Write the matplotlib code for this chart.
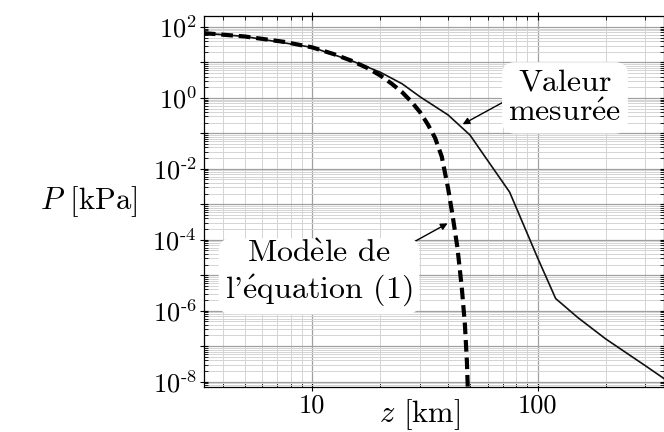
import math
import matplotlib
matplotlib.use('Agg')
import matplotlib.pyplot as plt
from matplotlib.ticker import LogLocator, FuncFormatter, NullFormatter

matplotlib.rcParams['mathtext.fontset'] = 'cm'
matplotlib.rcParams['font.family'] = ['cmr10', 'DejaVu Serif']
matplotlib.rcParams['axes.formatter.use_mathtext'] = True

# measured pressure (standard atmosphere)
z_mes = [3.3, 5, 10, 15, 20, 25, 30, 40, 50, 75, 100, 120, 150, 200, 300, 500]
p_mes = [67, 54, 26.5, 11.0, 5.3, 2.5, 1.08, 0.33, 0.09, 2.2e-3, 3e-5,
         2.2e-6, 6.5e-7, 1.6e-7, 2.8e-8, 3e-9]

# model of equation (1)
z_mod = [3.3, 5, 7.5, 10, 12.5, 15, 17.5, 20, 22.5, 25, 27.5, 30, 32.5, 35,
         37.5, 40, 42, 44, 46, 47.5, 48.5, 49.2, 49.6]
p_mod = [67, 54, 38, 26.5, 17, 11, 7.0, 4.3, 2.5, 1.45, 0.78, 0.40, 0.18,
         0.075, 0.022, 2.8e-3, 4.3e-4, 6e-5, 4.5e-6, 4e-7, 3.4e-8, 2e-9, 1e-11]


def ylab(v, pos):
    e = round(math.log10(v))
    if e % 2:
        return ''
    if e < 0:
        return r'$10^{\text{-}%d}$' % (-e)
    return r'$10^{%d}$' % e


fig = plt.figure(figsize=(6.64, 4.32), dpi=100)
ax = fig.add_axes([0.307, 0.105, 0.693, 0.858])

ax.plot(z_mes, p_mes, color='#111111', lw=1.2)
ax.plot(z_mod, p_mod, color='black', lw=3, ls=(0, (2.8, 1.4)))

ax.set_xscale('log')
ax.set_yscale('log')
ax.set_xlim(3.3, 363)
ax.set_ylim(7.2e-9, 204)

ax.yaxis.set_major_locator(LogLocator(base=10, numticks=30))
ax.yaxis.set_minor_locator(LogLocator(base=10, subs=range(2, 10), numticks=30))
ax.yaxis.set_major_formatter(FuncFormatter(ylab))
ax.yaxis.set_minor_formatter(NullFormatter())
ax.xaxis.set_major_formatter(FuncFormatter(lambda v, pos: '%d' % v))
ax.xaxis.set_minor_formatter(NullFormatter())

ax.grid(True, which='major', color='#a0a0a0', lw=0.9)
ax.grid(True, which='minor', color='#d4d4d4', lw=0.7)
ax.set_axisbelow(True)

ax.tick_params(which='both', top=True, right=True, labelsize=19)
ax.tick_params(which='major', direction='inout', length=6, width=0.8, pad=2)
ax.tick_params(which='minor', direction='in', length=3, width=0.6)
for s in ax.spines.values():
    s.set_linewidth(0.9)

ax.set_xlabel(r'$z$ [km]', fontsize=22)
ax.xaxis.set_label_coords(0.47, -0.027)
ax.xaxis.label.set_va('top')
ax.set_ylabel(r'$P$ [kPa]', fontsize=22, rotation=0, va='center', ha='center')
ax.yaxis.set_label_coords(-0.25, 0.5)

box = dict(boxstyle='round,pad=0.2,rounding_size=0.4', fc='white', ec='none')
txt_mes = 'Valeur\nmesur' + r'$\mathrm{\'e}$' + 'e'
txt_mod = 'Mod' + r'$\mathrm{\`e}$' + "le de\nl'" + r'$\mathrm{\'e}$' + 'quation (1)'
ax.annotate(txt_mes, xy=(46.4, 0.18), xytext=(132, 1.0),
            fontsize=23, ha='center', va='center', linespacing=1.15, bbox=box,
            arrowprops=dict(arrowstyle='-|>', color='black', lw=1,
                            shrinkA=0, shrinkB=0, mutation_scale=10,
                            relpos=(0.07, 0.55)))
ax.annotate(txt_mod, xy=(39.8, 2.9e-4), xytext=(10.7, 1.07e-5),
            fontsize=23, ha='center', va='center', linespacing=1.15, bbox=box,
            arrowprops=dict(arrowstyle='-|>', color='black', lw=1,
                            shrinkA=0, shrinkB=0, mutation_scale=10,
                            relpos=(0.895, 0.81)))

fig.savefig('out.png', dpi=100)
